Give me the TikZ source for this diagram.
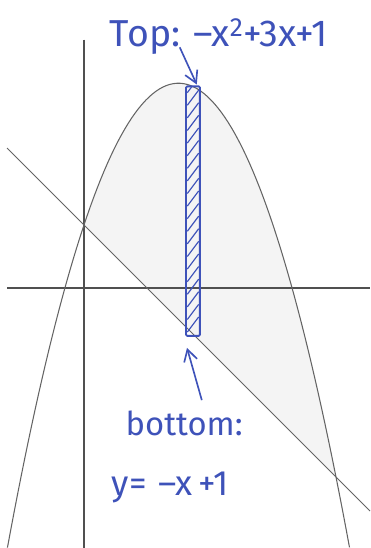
\documentclass[tikz,border=0pt]{standalone}
\usepackage{fontspec}
\setmainfont{Fira Sans}
\usepackage{tikz}
\usetikzlibrary{arrows.meta}
\definecolor{ink}{RGB}{62,82,185}
\definecolor{pencil}{RGB}{100,100,100}

\begin{document}
\begin{tikzpicture}[x=1.89cm, y=1.89cm, every node/.style={font=\fontsize{30}{34}\selectfont, text=ink}]
    \tikzset{axis/.style={draw=pencil!80!black, line width=1pt},
             curve/.style={draw=pencil, line width=0.9pt},
             pointer/.style={-{Straight Barb[length=3.5mm, width=4mm]}, draw=ink, line width=1.4pt}}

    \useasboundingbox (-1.333,-4.127) rectangle (4.540,4.571);

    % region between the curves
    \fill[gray!9] plot[domain=0:4, samples=60] (\x, {-\x*\x+3*\x+1}) -- (0,1) -- cycle;

    \draw[axis] (-1.22,0) -- (4.54,0);
    \draw[axis] (0,3.94) -- (0,-4.127);
    \draw[curve] plot[domain=-1.215:4.215, samples=100] (\x, {-\x*\x+3*\x+1});
    \draw[curve] (-1.22,2.22) -- (4.54,-3.54);

    % the strip
    \begin{scope}
        \clip (1.62,-0.76) rectangle (1.84,3.2);
        \foreach \y in {-0.7,-0.5,...,3.1} {
            \draw[ink, line width=1pt] (1.64,\y) -- (1.82,\y+0.24);
        }
    \end{scope}
    \draw[ink, line width=1.6pt, rounded corners=1pt] (1.62,-0.76) rectangle (1.84,3.2);

    \node[font=\fontsize{32}{36}\selectfont] (topLabel) at (2.14,3.99) {Top: –x\textsuperscript{2}+3x+1};
    \node[font=\fontsize{28}{32}\selectfont] (bottomLabel) at (1.59,-2.15) {bottom:};
    \node (bottomEq) at (1.37,-3.17) {y=\,\,–x\,+1};

    \coordinate (topTail) at (1.52,3.82);
    \coordinate (stripTop) at (1.79,3.23);
    \coordinate (bottomTail) at (1.87,-1.78);
    \coordinate (stripBottom) at (1.635,-0.95);

    \draw[pointer] (topTail) -- (stripTop);
    \draw[pointer] (bottomTail) -- (stripBottom);
\end{tikzpicture}
\end{document}
